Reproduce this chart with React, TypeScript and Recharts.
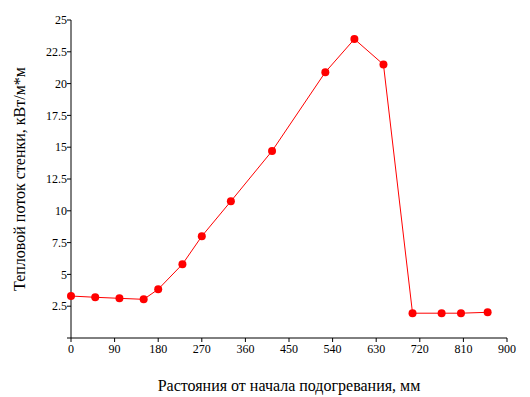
import React from "react";
import { LineChart, Line, XAxis, YAxis } from "recharts";

// расстояние от начала подогрева, мм
const distances = [0, 50, 100, 150, 180, 230, 270, 330, 415, 525, 585, 645, 705, 765, 805, 860];
// тепловой поток, кВт/м*м
const heatFlux = [3.3, 3.2, 3.12, 3.04, 3.83, 5.8, 8.0, 10.75, 14.7, 20.9, 23.5, 21.5, 1.95, 1.95, 1.95, 2.02];

const xTicks = [0, 90, 180, 270, 360, 450, 540, 630, 720, 810, 900];
const yTicks = [0, 2.5, 5, 7.5, 10, 12.5, 15, 17.5, 20, 22.5, 25];

const data = distances.map((d, i) => ({ x: d, q: heatFlux[i] }));

const font = "'Liberation Serif', 'Times New Roman', serif";

export default function App() {
  return (
    <div style={{ width: 530, height: 397, background: "#fff" }}>
      <style>{`body { margin: 0; }`}</style>
      <LineChart
        width={530}
        height={397}
        data={data}
        margin={{ top: 20, right: 23, bottom: 9, left: 11 }}
      >
        <XAxis
          dataKey="x"
          type="number"
          domain={[0, 900]}
          ticks={xTicks}
          interval={0}
          height={50}
          stroke="#000"
          tickSize={4}
          tickMargin={2}
          tick={{ fill: "#000", fontSize: 12, fontFamily: font }}
          label={{
            value: "Растояния от начала подогревания, мм",
            position: "insideBottom",
            offset: -3,
            fill: "#000",
            fontSize: 16,
            fontFamily: font,
          }}
        />
        <YAxis
          type="number"
          domain={[0, 25]}
          ticks={yTicks}
          interval={0}
          width={60}
          stroke="#000"
          tickSize={4}
          tickMargin={0}
          tickFormatter={(v: number) => (v === 0 ? "" : String(v))}
          tick={{ fill: "#000", fontSize: 12, fontFamily: font }}
          label={{
            value: "Тепловой поток стенки, кВт/м*м",
            angle: -90,
            position: "insideLeft",
            offset: 8,
            fill: "#000",
            fontSize: 16,
            fontFamily: font,
            style: { textAnchor: "middle" },
          }}
        />
        <Line
          dataKey="q"
          type="linear"
          stroke="#ff0000"
          strokeWidth={1}
          dot={{ r: 4, fill: "#ff0000", stroke: "#ff0000", strokeWidth: 0 }}
          isAnimationActive={false}
        />
      </LineChart>
    </div>
  );
}
